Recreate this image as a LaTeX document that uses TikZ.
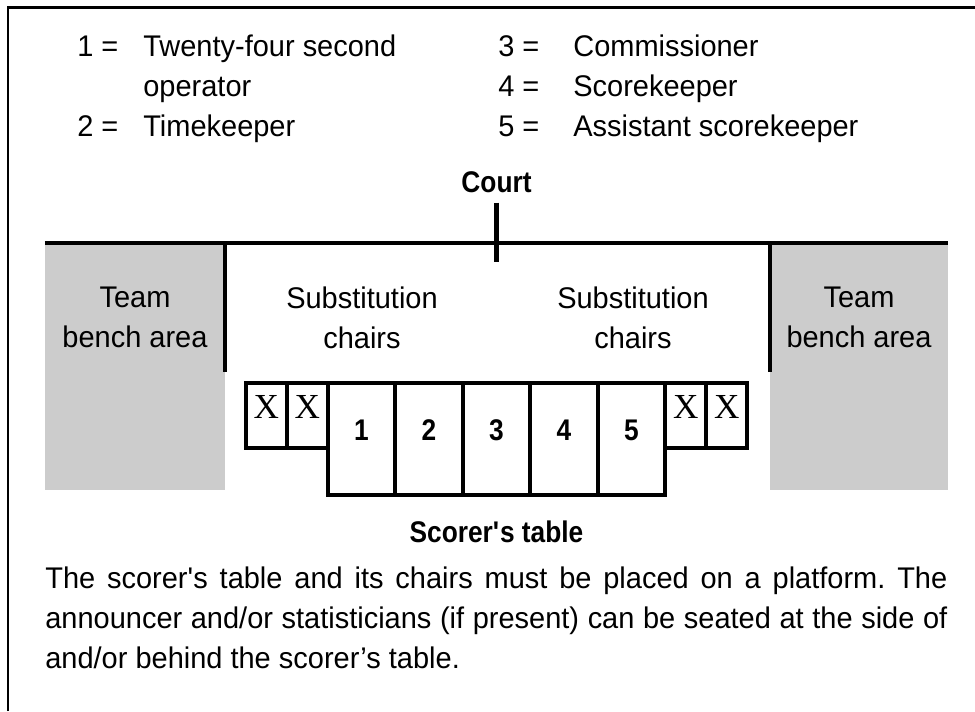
\documentclass[tikz,border=0pt]{standalone}
\usepackage{fontspec}
\setmainfont{Liberation Sans}[FakeStretch=0.97]
\newfontfamily\headfont{Liberation Sans}[FakeStretch=0.88]
\newfontfamily\xfont{Liberation Serif}
\usetikzlibrary{positioning}
\definecolor{benchgray}{HTML}{CCCCCC}
\frenchspacing
\tikzset{
  wall/.style={line width=2.3pt, black},
  txt/.style={font=\fontsize{17}{22.7}\selectfont, inner sep=0pt},
  headtxt/.style={font=\headfont\bfseries\fontsize{17}{17}\selectfont, inner sep=0pt},
  cell/.style={draw, line width=2.2pt, minimum width=1.35cm, minimum height=2.24cm, outer sep=0pt, inner sep=0pt},
  chairbox/.style={draw, line width=2.2pt, minimum width=0.82cm, minimum height=1.3cm, outer sep=0pt, inner sep=0pt, anchor=north east},
  num/.style={font=\headfont\bfseries\fontsize{17}{17}\selectfont, inner sep=0pt},
  xmark/.style={font=\xfont\fontsize{20}{20}\selectfont, inner sep=0pt, anchor=north},
}
\begin{document}
\begin{tikzpicture}
  \useasboundingbox (0,0) rectangle (19.5,14.22);
  % frame
  \draw[line width=1.7pt] (0.16,0) -- (0.16,14.07) -- (19.5,14.07);

  % key
  \node[txt, anchor=base west] (k1) at (1.54,13.08) {1 =};
  \node[txt, anchor=base west] (t1) at (2.86,13.08) {Twenty-four second};
  \node[txt, anchor=base west] (t1b) at (2.86,12.28) {operator};
  \node[txt, anchor=base west] (k2) at (1.54,11.48) {2 =};
  \node[txt, anchor=base west] (t2) at (2.86,11.48) {Timekeeper};
  \node[txt, anchor=base west] (k3) at (9.96,13.08) {3 =};
  \node[txt, anchor=base west] (t3) at (11.46,13.08) {Commissioner};
  \node[txt, anchor=base west] (k4) at (9.96,12.28) {4 =};
  \node[txt, anchor=base west] (t4) at (11.46,12.28) {Scorekeeper};
  \node[txt, anchor=base west] (k5) at (9.96,11.48) {5 =};
  \node[txt, anchor=base west] (t5) at (11.46,11.48) {Assistant scorekeeper};

  % court side
  \fill[benchgray] (0.9,9.36) rectangle (4.5,4.42);
  \fill[benchgray] (15.4,9.36) rectangle (18.96,4.42);
  \draw[wall] (0.9,9.36) -- (18.96,9.36);
  \draw[wall] (4.5,9.36) -- (4.5,6.78);
  \draw[wall] (15.4,9.36) -- (15.4,6.78);
  \node[headtxt, anchor=base, inner ysep=0.18cm] (court) at (9.93,10.36) {Court};
  \coordinate (tick) at (9.93,8.98);
  \draw[wall] (court.south) -- (tick);

  \node[txt, align=center] (benchL) at (2.7,7.87) {Team\\bench area};
  \node[txt, align=center] (subL) at (7.24,7.87) {Substitution\\chairs};
  \node[txt, align=center] (subR) at (12.66,7.87) {Substitution\\chairs};
  \node[txt, align=center] (benchR) at (17.18,7.87) {Team\\bench area};

  % scorer's table
  \node[cell] (c3) at (9.93,5.44) {};
  \node[cell, left=0pt of c3] (c2) {};
  \node[cell, left=0pt of c2] (c1) {};
  \node[cell, right=0pt of c3] (c4) {};
  \node[cell, right=0pt of c4] (c5) {};
  \foreach \i in {1,...,5}
    \node[num] (n\i) at ([yshift=0.18cm]c\i.center) {\i};
  \node[chairbox] (x2) at (c1.north west) {};
  \node[chairbox] (x1) at (x2.north west) {};
  \node[chairbox, anchor=north west] (x3) at (c5.north east) {};
  \node[chairbox, anchor=north west] (x4) at (x3.north east) {};
  \foreach \j in {1,...,4}
    \node[xmark] (xm\j) at ([yshift=-0.24cm]x\j.north) {X};

  \node[headtxt, anchor=base] (table) at (9.93,3.38) {Scorer\textquotesingle s table};
  \node[txt, text width=18.04cm, align=justify, anchor=north west] (note) at (0.9,2.88)
    {The scorer\textquotesingle s table and its chairs must be placed on a platform. The\linebreak
     announcer and/or statisticians (if present) can be seated at the side of\linebreak
     and/or behind the scorer’s table.};
\end{tikzpicture}
\end{document}
